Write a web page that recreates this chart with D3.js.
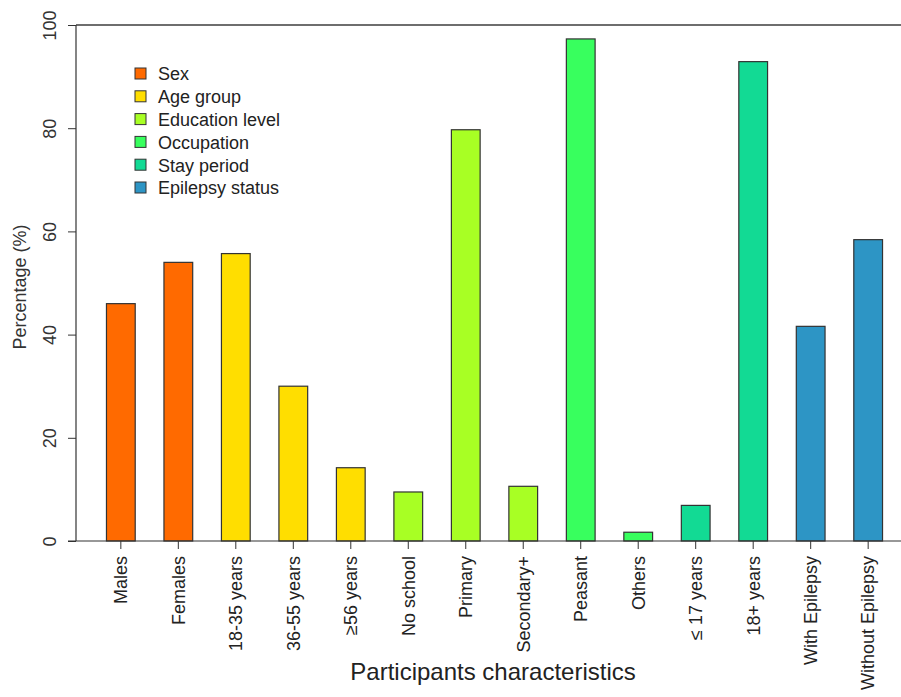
<!DOCTYPE html>
<html><head><meta charset="utf-8">
<script src="https://cdn.jsdelivr.net/npm/d3@7"></script>
<style>body{margin:0;background:#fff}svg{display:block}text{font-family:Arial,"Liberation Sans",sans-serif}</style>
</head><body><div id="chart"></div>
<script>
const categories = ["Males","Females","18-35 years","36-55 years","\u226556 years","No school","Primary","Secondary+","Peasant","Others","\u2264 17 years","18+ years","With Epilepsy","Without Epilepsy"];
const values = [46.0, 54.0, 55.7, 30.0, 14.2, 9.5, 79.7, 10.6, 97.3, 1.7, 6.9, 92.9, 41.6, 58.4];
const groupOfBar = [0,0,1,1,1,2,2,2,3,3,4,4,5,5];
const groups = ["Sex","Age group","Education level","Occupation","Stay period","Epilepsy status"];
const groupColors = ["#FF6A00","#FFDE00","#A8FF24","#38FF5E","#12DA94","#2D95C5"];
const yTicks = [0,20,40,60,80,100];

const W = 901, H = 697;
const svg = d3.select("#chart").append("svg").attr("width", W).attr("height", H);

const y = d3.scaleLinear().domain([0,100]).range([541,25]);
const x = d3.scaleBand().domain(categories).range([76, 913]).paddingInner(0.5).paddingOuter(0.53);

// frame lines
svg.append("line").attr("x1",76).attr("x2",W).attr("y1",y(100)).attr("y2",y(100)).attr("stroke","#6e6e6e").attr("stroke-width",2);
svg.append("line").attr("x1",76).attr("x2",76).attr("y1",y(100)).attr("y2",y(0)).attr("stroke","#333").attr("stroke-width",1.2);

// bars
svg.selectAll("rect.bar").data(categories).enter().append("rect")
  .attr("class","bar")
  .attr("x", d => x(d))
  .attr("width", x.bandwidth())
  .attr("y", (d,i) => y(values[i]))
  .attr("height", (d,i) => y(0) - y(values[i]))
  .attr("fill", (d,i) => groupColors[groupOfBar[i]])
  .attr("stroke", "#333").attr("stroke-width", 1.2);

// y axis
const yAxis = d3.axisLeft(y).tickValues(yTicks).tickSize(8).tickFormat(d3.format("d"));
const gy = svg.append("g").attr("transform","translate(76,0)").call(yAxis);
gy.select(".domain").remove();
gy.selectAll(".tick line").attr("stroke","#333");
gy.selectAll(".tick text")
  .attr("x", 0).attr("y", 0).attr("dy","0.35em").attr("dx", null)
  .attr("transform", "translate(-26,0) rotate(-90)")
  .attr("text-anchor","middle")
  .style("font-size","18px").attr("fill","#333");

// x axis baseline and ticks
svg.append("line").attr("x1",68).attr("x2",W).attr("y1",y(0)).attr("y2",y(0)).attr("stroke","#333").attr("stroke-width",1.2);
const xAxis = d3.axisBottom(x).tickSize(8).tickSizeOuter(0);
const gx = svg.append("g").attr("transform",`translate(0,${y(0)})`).call(xAxis);
gx.select(".domain").remove();
gx.selectAll(".tick line").attr("stroke","#333");
gx.selectAll(".tick text")
  .attr("y", 0).attr("x", 0).attr("dy","0.35em")
  .attr("transform","translate(0,15) rotate(-90)")
  .attr("text-anchor","end")
  .style("font-size","18px").attr("fill","#222");

// axis titles
svg.append("text").attr("transform",`translate(26,${(y(0)+y(100))/2 + 4}) rotate(-90)`)
  .attr("text-anchor","middle").style("font-size","18px").attr("fill","#333").text("Percentage (%)");
svg.append("text").attr("x", 493).attr("y", 680).attr("text-anchor","middle")
  .style("font-size","24px").attr("fill","#222").text("Participants characteristics");

// legend
const lg = svg.append("g");
groups.forEach((g,i) => {
  const cy = 74 + i*22.8;
  lg.append("rect").attr("x",135).attr("y",cy-6).attr("width",11).attr("height",11)
    .attr("fill",groupColors[i]).attr("stroke","#333").attr("stroke-width",1);
  lg.append("text").attr("x",158).attr("y",cy).attr("dy","0.35em")
    .style("font-size","18px").attr("fill","#222").text(g);
});
</script></body></html>
